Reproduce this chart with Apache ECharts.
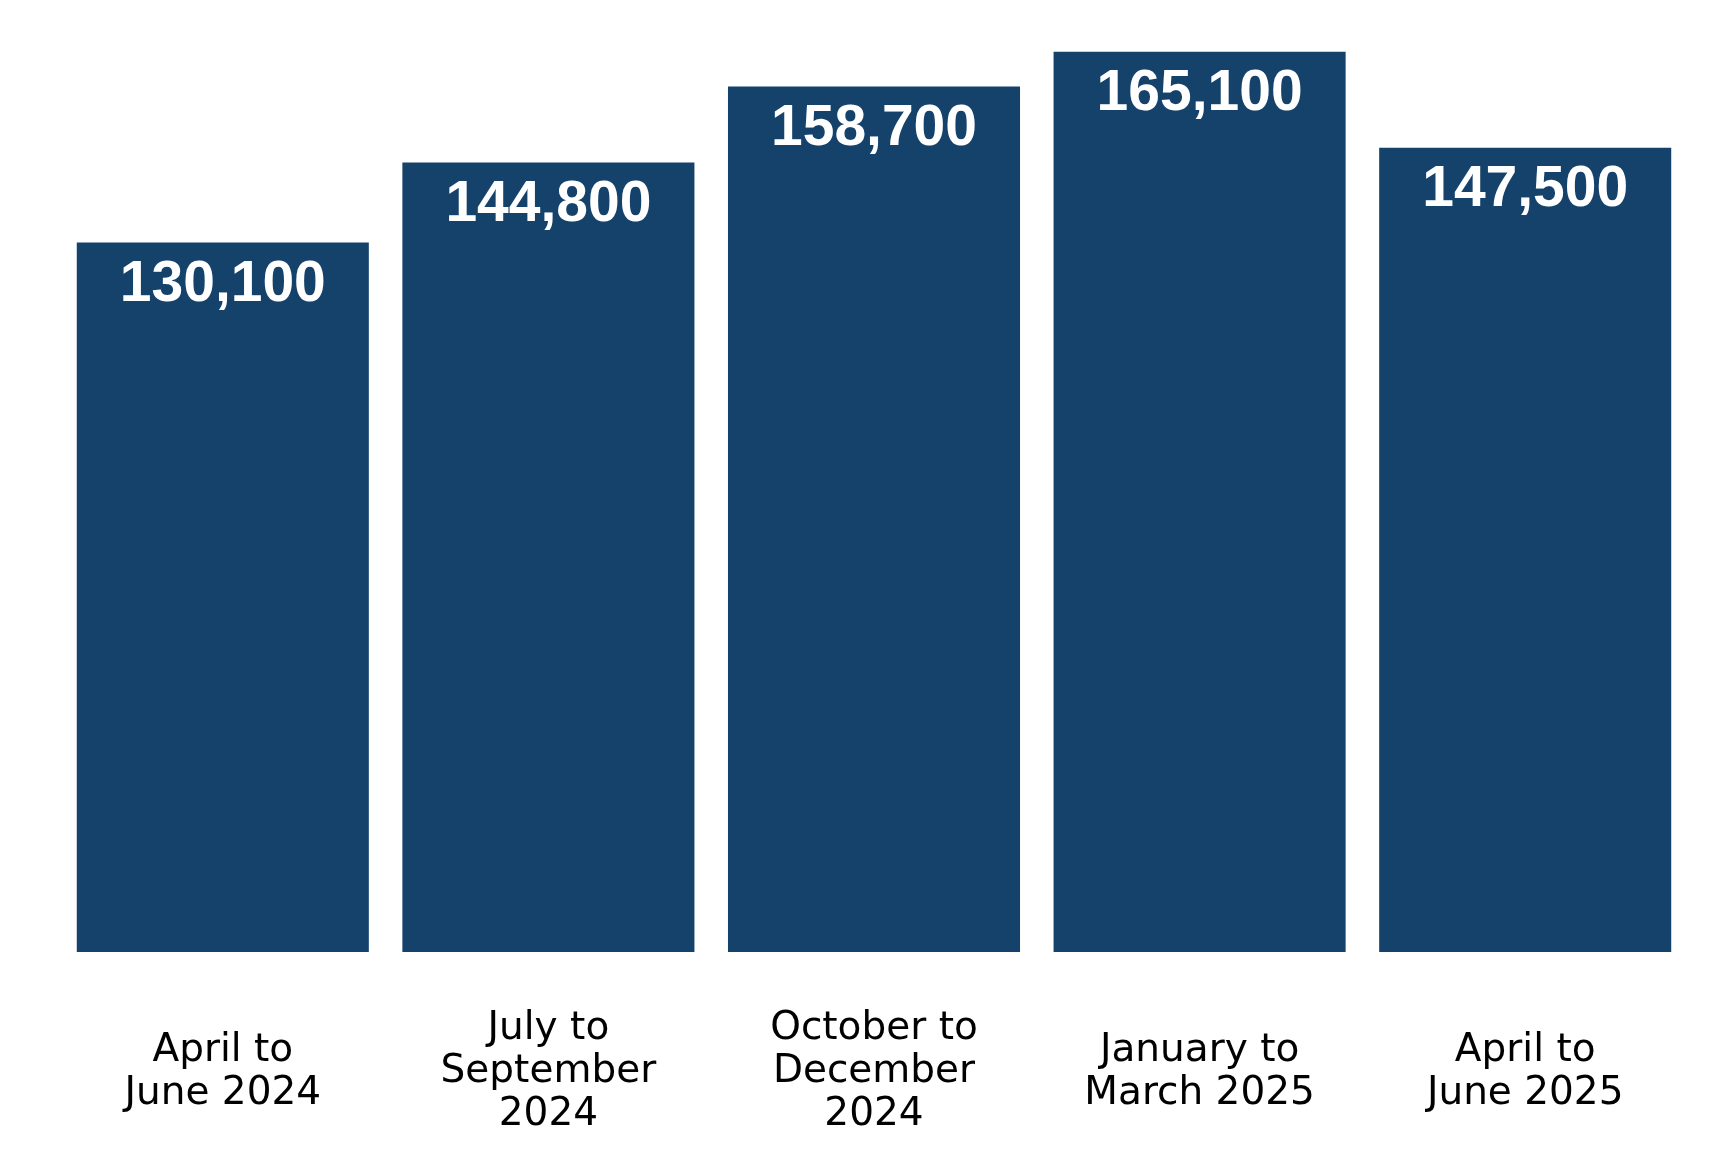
<!DOCTYPE html>
<html>
<head>
<meta charset="utf-8">
<script src="https://cdn.jsdelivr.net/npm/echarts@6/dist/echarts.min.js"></script>
<style>
html,body{margin:0;padding:0;background:#fff;}
#chart{width:1728px;height:1152px;}
</style>
</head>
<body>
<div id="chart"></div>
<script>
const categories = ["April to\nJune 2024", "July to\nSeptember\n2024", "October to\nDecember\n2024", "January to\nMarch 2025", "April to\nJune 2025"];
const values = [130100, 144800, 158700, 165100, 147500];

const chart = echarts.init(document.getElementById('chart'));
chart.setOption({
  animation: false,
  grid: { left: 60, right: 40, top: 25, bottom: 200 },
  xAxis: {
    type: 'category',
    data: categories,
    axisLine: { show: false },
    axisTick: { show: false },
    axisLabel: {
      interval: 0,
      margin: 120,
      verticalAlign: 'middle',
      color: '#000',
      fontFamily: 'DejaVu Sans',
      fontSize: 39,
      lineHeight: 43
    }
  },
  yAxis: {
    type: 'value',
    min: 0,
    max: 170000,
    show: false,
    splitLine: { show: false }
  },
  series: [{
    type: 'bar',
    data: values,
    barCategoryGap: '10.3%',
    itemStyle: { color: '#14426B' },
    label: {
      show: true,
      position: 'insideTop',
      distance: 14,
      color: '#fff',
      fontFamily: 'Liberation Sans',
      fontWeight: 'bold',
      fontSize: 57,
      formatter: p => p.value.toLocaleString('en-US')
    }
  }]
});
</script>
</body>
</html>
